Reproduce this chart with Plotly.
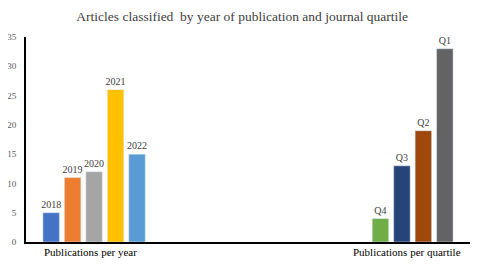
import plotly.graph_objects as go

groups = ["Publications per year", "Publications per quartile"]
series_names = ["2018", "2019", "2020", "2021", "2022", "Q4", "Q3", "Q2", "Q1"]
series_group = [0, 0, 0, 0, 0, 1, 1, 1, 1]
series_values = [5, 11, 12, 26, 15, 4, 13, 19, 33]
series_colors = ["#4472C4", "#ED7D31", "#A5A5A5", "#FFC000", "#5B9BD5",
                 "#70AD47", "#264478", "#9E480E", "#636363"]
y_ticks = [0, 5, 10, 15, 20, 25, 30, 35]

SERIF = "Liberation Serif, Times New Roman, serif"

fig = go.Figure()
for name, g, v, c in zip(series_names, series_group, series_values, series_colors):
    ys = [v if i == g else None for i in range(len(groups))]
    fig.add_trace(go.Bar(
        x=groups, y=ys, name=name, marker_color=c,
        text=[name if i == g else "" for i in range(len(groups))],
        textposition="outside", cliponaxis=False, constraintext="none",
        textfont=dict(family=SERIF, size=10, color="#404040"),
        showlegend=False,
    ))

# page body has an 8px default margin, so the figure is sized to fit the window
fig.update_layout(
    width=493, height=260,
    margin=dict(l=18, r=31, t=29, b=26, autoexpand=False),
    paper_bgcolor="white", plot_bgcolor="white",
    barmode="group", bargap=0.13, bargroupgap=0.23,
    title=dict(text="Articles classified  by year of publication and journal quartile",
               x=0.475, xanchor="center", y=0.97, yanchor="middle",
               font=dict(family=SERIF, size=13.5, color="#404040")),
    font=dict(family=SERIF),
    uniformtext=dict(minsize=10, mode="show"),
)
fig.update_xaxes(showticklabels=False, showline=True, linecolor="black", linewidth=1.5,
                 showgrid=False, zeroline=False, ticks="", automargin=False)
fig.update_yaxes(range=[0, 35], tickvals=y_ticks, showline=True, linecolor="black",
                 linewidth=2, showgrid=False, zeroline=False, ticks="",
                 ticklabelstandoff=6, automargin=False,
                 tickfont=dict(family=SERIF, size=9, color="#595959"))

label_x = [-0.21, 1.215]
for lx, txt in zip(label_x, groups):
    fig.add_annotation(x=lx, xref="x", y=0, yref="y", yanchor="top", yshift=-2,
                       text=txt, showarrow=False,
                       font=dict(family=SERIF, size=11, color="black"))

fig.write_html("out.html")
